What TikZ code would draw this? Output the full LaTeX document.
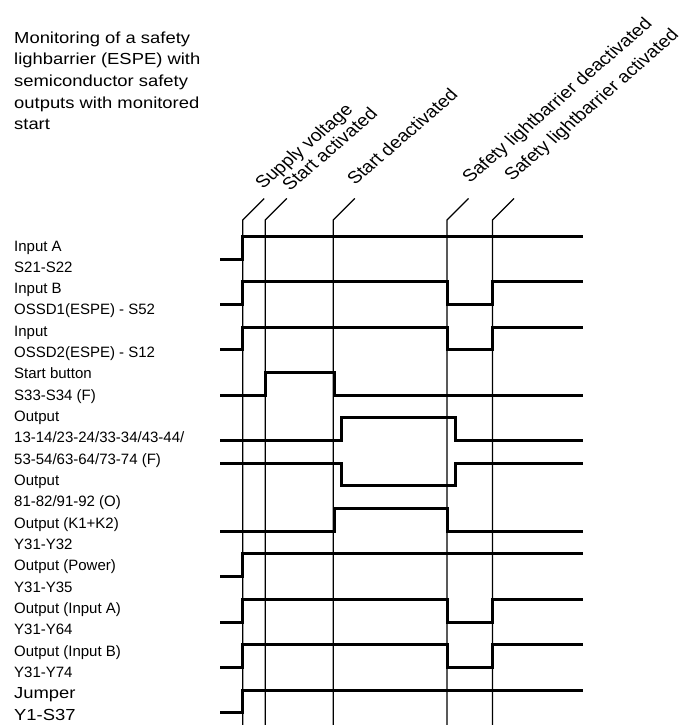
\documentclass[tikz,border=0pt]{standalone}
\usepackage{fontspec}
\setmainfont{Liberation Sans}
\newfontfamily\widefont[FakeStretch=1.15]{Liberation Sans}
\begin{document}
\begin{tikzpicture}[x=1pt,y=-1pt,
  sig/.style={line width=3pt, line join=miter},
  gridline/.style={line width=1.3pt},
  lbl/.style={anchor=base west, inner sep=0pt, font=\fontsize{15}{18}\selectfont},
  widelbl/.style={anchor=base west, inner sep=0pt, font=\widefont\fontsize{16}{19}\selectfont},
  evlbl/.style={anchor=base west, inner sep=0pt, transform shape, font=\fontsize{17}{20}\selectfont}]
\useasboundingbox (0,0) rectangle (696,725);
% event x positions
\def\xs{220}\def\xa{242.7}\def\xb{265.3}\def\xc{333.3}\def\xd{447}\def\xe{492.5}\def\xz{583}
\def\xcc{334.5}\def\xf{341.5}\def\xg{455}
% title
\foreach \t [count=\i from 0] in {{Monitoring of a safety},{lighbarrier (ESPE) with},{semiconductor safety},{outputs with monitored},{start}}
  \node[widelbl] (title\i) at (14,{43.3+21.6*\i}) {\t};
% signal labels
\foreach \t [count=\i from 0] in {{Input A},{S21-S22},{Input B},{OSSD1(ESPE) - S52},{Input},{OSSD2(ESPE) - S12},{Start button},{S33-S34 (F)},{Output},{13-14/23-24/33-34/43-44/},{53-54/63-64/73-74 (F)},{Output},{81-82/91-92 (O)},{Output (K1+K2)},{Y31-Y32},{Output (Power)},{Y31-Y35},{Output (Input A)},{Y31-Y64},{Output (Input B)},{Y31-Y74}}
  \node[lbl] (lab\i) at (14,{251+21.32*\i}) {\t};
\node[widelbl] (lab21) at (14,{251+21.32*21}) {Jumper};
\node[widelbl] (lab22) at (14,{251+21.32*22}) {Y1-S37};
% event lines
\foreach \x in {\xa,\xb,\xc,\xd,\xe}
  \draw[gridline] (\x,725) -- (\x,220) -- ++(21.5,-21.5);
% event labels
\begin{scope}[shift={(263,190)},xscale=1.15,rotate=45]
  \node[evlbl] (ev1) at (0,0) {Supply voltage};
\end{scope}
\begin{scope}[shift={(290,192)},xscale=1.15,rotate=45]
  \node[evlbl] (ev2) at (0,0) {Start activated};
\end{scope}
\begin{scope}[shift={(355,186)},xscale=1.15,rotate=45]
  \node[evlbl] (ev3) at (0,0) {Start deactivated};
\end{scope}
\begin{scope}[shift={(470,184)},xscale=1.15,rotate=45]
  \node[evlbl] (ev4) at (0,0) {Safety lightbarrier deactivated};
\end{scope}
\begin{scope}[shift={(512,182)},xscale=1.15,rotate=45]
  \node[evlbl] (ev5) at (0,0) {Safety lightbarrier activated};
\end{scope}
% signals
% Input A (row 0), Power (7), Jumper (10)
\foreach \h in {236.5,553.95,690.0}
  \draw[sig] (\xs,\h+22.7) -- (\xa,\h+22.7) -- (\xa,\h) -- (\xz,\h);
% Input B (1), OSSD2 (2), Out Input A (8), Out Input B (9)
\foreach \h in {281.85,327.2,599.3,644.65}
  \draw[sig] (\xs,\h+22.7) -- (\xa,\h+22.7) -- (\xa,\h) -- (\xd,\h) -- (\xd,\h+22.7) -- (\xe,\h+22.7) -- (\xe,\h) -- (\xz,\h);
% Start button (3)
\draw[sig] (\xs,395.25) -- (\xb,395.25) -- (\xb,372.55) -- (\xcc,372.55) -- (\xcc,395.25) -- (\xz,395.25);
% Output 13-14 (4)
\draw[sig] (\xs,440.6) -- (\xf,440.6) -- (\xf,417.9) -- (\xg,417.9) -- (\xg,440.6) -- (\xz,440.6);
% Output 81-82 (5)
\draw[sig] (\xs,463.25) -- (\xf,463.25) -- (\xf,485.95) -- (\xg,485.95) -- (\xg,463.25) -- (\xz,463.25);
% Output K1+K2 (6)
\draw[sig] (\xs,531.3) -- (\xcc,531.3) -- (\xcc,508.6) -- (\xd,508.6) -- (\xd,531.3) -- (\xz,531.3);
\end{tikzpicture}
\end{document}
